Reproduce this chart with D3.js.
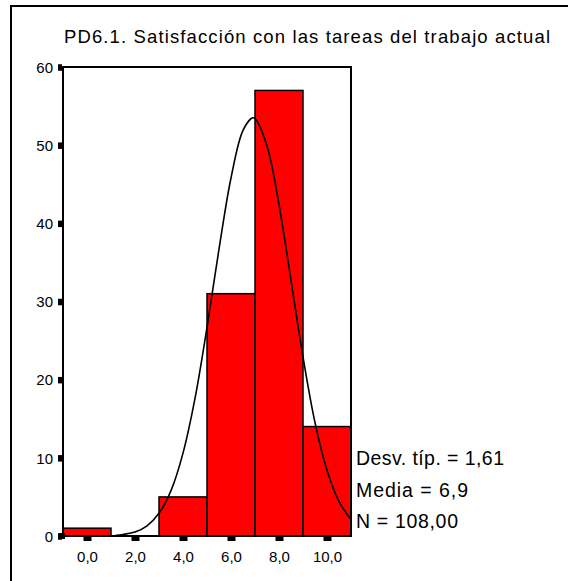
<!DOCTYPE html>
<html>
<head>
<meta charset="utf-8">
<script src="https://cdn.jsdelivr.net/npm/d3@7"></script>
<style>
  html, body { margin: 0; padding: 0; background: #fff; }
  svg { display: block; }
  text { font-family: "Liberation Sans", Arial, sans-serif; fill: #000; }
</style>
</head>
<body>
<svg id="chart" width="568" height="581"></svg>
<script>
// ---- data ----
const title = "PD6.1. Satisfacción con las tareas del trabajo actual";
const binStarts = [-1, 1, 3, 5, 7, 9];
const binEnds   = [1, 3, 5, 7, 9, 11];
const counts    = [1, 0, 5, 31, 57, 14];
const xTickValues = [0, 2, 4, 6, 8, 10];
const xTickLabels = ["0,0", "2,0", "4,0", "6,0", "8,0", "10,0"];
const yTickValues = [0, 10, 20, 30, 40, 50, 60];
const curveX = [1.2, 1.5, 2.0, 2.5, 3.0, 3.5, 4.0, 4.5, 5.0, 5.5, 6.0, 6.5, 6.9, 7.0, 7.5, 8.0, 8.5, 9.0, 9.5, 10.0, 10.5, 11.0];
const curveY = [0.1, 0.2, 0.5, 1.3, 2.9, 5.8, 10.6, 17.6, 26.7, 36.7, 45.8, 51.9, 53.5, 53.4, 49.9, 42.4, 32.7, 22.9, 14.5, 8.4, 4.4, 2.1];
const statsLines = ["Desv. típ. = 1,61", "Media = 6,9", "N = 108,00"];

// ---- layout ----
const svg = d3.select("#chart");
const plot = { left: 63, right: 351, top: 67, bottom: 536 };
const statsWidths = [148, 112, 102];

const x = d3.scaleLinear().domain([-1, 11]).range([plot.left, plot.right]);
const y = d3.scaleLinear().domain([0, 60]).range([plot.bottom, plot.top]);

// outer border (partially visible)
svg.append("line").attr("x1", 11).attr("x2", 11).attr("y1", 6).attr("y2", 581)
  .attr("stroke", "#000").attr("stroke-width", 2);
svg.append("line").attr("x1", 10).attr("x2", 568).attr("y1", 6).attr("y2", 6)
  .attr("stroke", "#000").attr("stroke-width", 2);

// title
svg.append("text").attr("x", 64).attr("y", 43)
  .attr("font-size", 18.5)
  .attr("textLength", 486).attr("lengthAdjust", "spacing")
  .text(title);

// bars
const bars = binStarts.map((s, i) => ({ s, e: binEnds[i], c: counts[i] }));
svg.append("g").selectAll("rect").data(bars.filter(d => d.c > 0)).join("rect")
  .attr("x", d => x(d.s)).attr("width", d => x(d.e) - x(d.s))
  .attr("y", d => y(d.c)).attr("height", d => y(0) - y(d.c))
  .attr("fill", "#ff0000").attr("stroke", "#000").attr("stroke-width", 1.5);

// normal curve
const line = d3.line().x(d => x(d[0])).y(d => y(d[1])).curve(d3.curveCatmullRom);
svg.append("path").datum(curveX.map((v, i) => [v, curveY[i]]))
  .attr("d", line).attr("fill", "none").attr("stroke", "#000").attr("stroke-width", 1.6);

// frame
svg.append("rect").attr("x", plot.left).attr("y", plot.top)
  .attr("width", plot.right - plot.left).attr("height", plot.bottom - plot.top)
  .attr("fill", "none").attr("stroke", "#000").attr("stroke-width", 2);

// y axis
const yAxis = d3.axisLeft(y).tickValues(yTickValues).tickSize(4).tickPadding(5)
  .tickFormat(d3.format("d"));
const gy = svg.append("g").attr("transform", `translate(${plot.left - 1},0)`).call(yAxis);
gy.select(".domain").remove();
gy.attr("font-size", null).attr("font-family", null);
gy.selectAll(".tick line").attr("stroke", "#000").attr("stroke-width", 6.5);
gy.selectAll(".tick text").attr("font-size", 15).attr("dy", "0.35em");

// x axis
const xAxis = d3.axisBottom(x).tickValues(xTickValues).tickSize(4).tickPadding(0)
  .tickFormat((d, i) => xTickLabels[i]);
const gx = svg.append("g").attr("transform", `translate(0,${plot.bottom + 1})`).call(xAxis);
gx.select(".domain").remove();
gx.attr("font-size", null).attr("font-family", null);
gx.selectAll(".tick line").attr("stroke", "#000").attr("stroke-width", 8);
gx.selectAll(".tick text").attr("font-size", 15).attr("y", 25).attr("dy", null);

// corner mark
svg.append("rect").attr("x", 59).attr("y", 533).attr("width", 6).attr("height", 6).attr("fill", "#000");

// stats
svg.append("g").selectAll("text").data(statsLines).join("text")
  .attr("x", 356).attr("y", (d, i) => 465 + i * 31.5)
  .attr("font-size", 19.5)
  .attr("textLength", (d, i) => statsWidths[i]).attr("lengthAdjust", "spacing")
  .text(d => d);
</script>
</body>
</html>
